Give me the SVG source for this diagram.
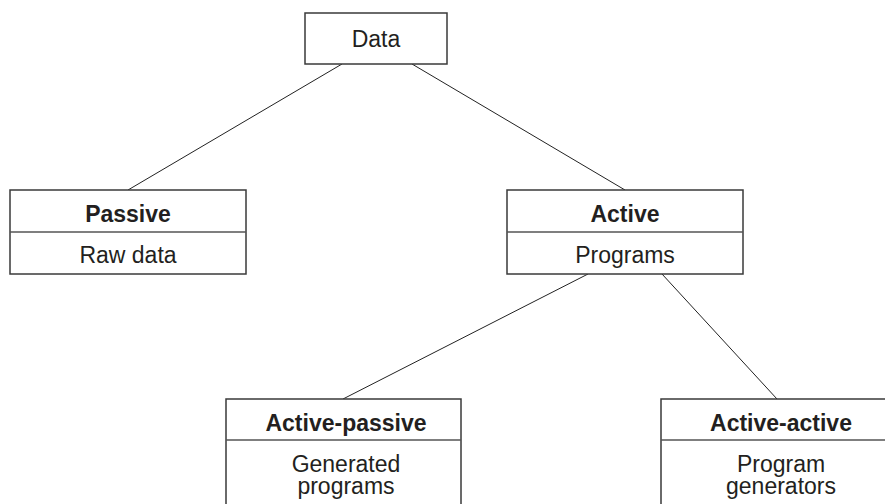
<svg xmlns="http://www.w3.org/2000/svg" width="885" height="504" viewBox="0 0 885 504">
<style>
.box{fill:#fff;stroke:#3a3a3a;stroke-width:1.5}
.div{stroke:#555;stroke-width:1.5}
.con{stroke:#222;stroke-width:1;fill:none}
text{font-family:"Liberation Sans",Arial,sans-serif;font-size:23px;fill:#231f20;text-anchor:middle}
.b{font-weight:bold}
</style>
<rect width="885" height="504" fill="#fff"/>
<g id="connectors">
<line class="con" x1="342" y1="64" x2="128" y2="190"/>
<line class="con" x1="412" y1="64" x2="625" y2="190"/>
<line class="con" x1="588" y1="274" x2="343" y2="399"/>
<line class="con" x1="662" y1="274" x2="777" y2="399"/>
</g>
<g id="data">
<rect class="box" x="305" y="13" width="142" height="51"/>
<text x="376" y="47">Data</text>
</g>
<g id="passive">
<rect class="box" x="10" y="190" width="236" height="84"/>
<line class="div" x1="10" y1="232" x2="246" y2="232"/>
<text class="b" x="128" y="222">Passive</text>
<text x="128" y="263">Raw data</text>
</g>
<g id="active">
<rect class="box" x="507" y="190" width="236" height="84"/>
<line class="div" x1="507" y1="232" x2="743" y2="232"/>
<text class="b" x="625" y="222">Active</text>
<text x="625" y="263">Programs</text>
</g>
<g id="active-passive">
<rect class="box" x="226" y="399" width="235" height="120"/>
<line class="div" x1="226" y1="440" x2="461" y2="440"/>
<text class="b" x="346" y="431">Active-passive</text>
<text x="346" y="472">Generated</text>
<text x="346" y="494">programs</text>
</g>
<g id="active-active">
<rect class="box" x="661" y="399" width="236" height="120"/>
<line class="div" x1="661" y1="440" x2="897" y2="440"/>
<text class="b" x="781" y="431">Active-active</text>
<text x="781" y="472">Program</text>
<text x="781" y="494">generators</text>
</g>
</svg>
